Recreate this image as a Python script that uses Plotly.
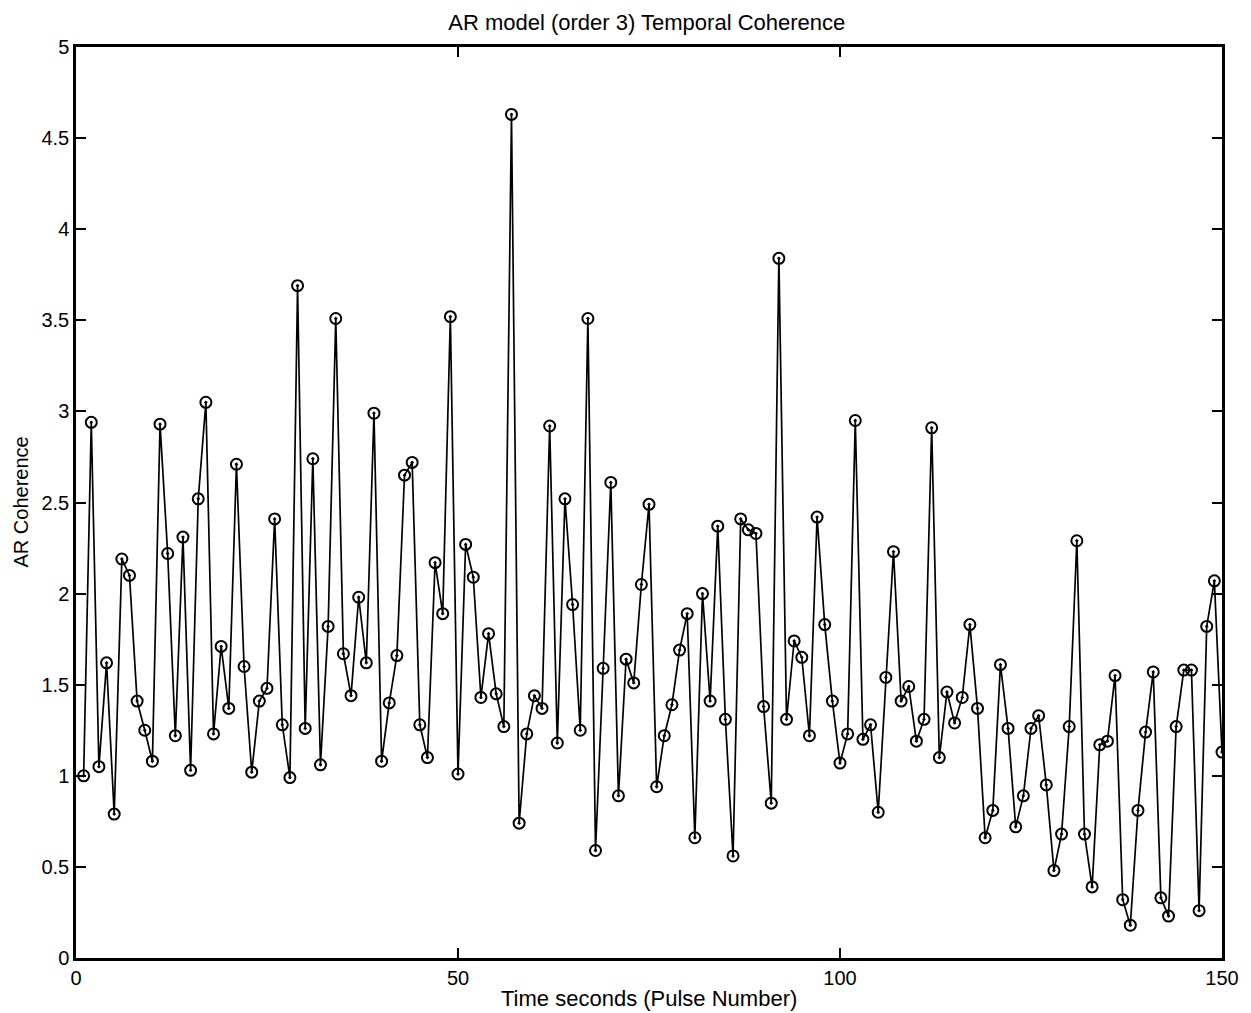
import plotly.graph_objects as go

pulse = list(range(1, 151))
coherence = [
    1.00, 2.94, 1.05, 1.62, 0.79, 2.19, 2.10, 1.41, 1.25, 1.08,
    2.93, 2.22, 1.22, 2.31, 1.03, 2.52, 3.05, 1.23, 1.71, 1.37,
    2.71, 1.60, 1.02, 1.41, 1.48, 2.41, 1.28, 0.99, 3.69, 1.26,
    2.74, 1.06, 1.82, 3.51, 1.67, 1.44, 1.98, 1.62, 2.99, 1.08,
    1.40, 1.66, 2.65, 2.72, 1.28, 1.10, 2.17, 1.89, 3.52, 1.01,
    2.27, 2.09, 1.43, 1.78, 1.45, 1.27, 4.63, 0.74, 1.23, 1.44,
    1.37, 2.92, 1.18, 2.52, 1.94, 1.25, 3.51, 0.59, 1.59, 2.61,
    0.89, 1.64, 1.51, 2.05, 2.49, 0.94, 1.22, 1.39, 1.69, 1.89,
    0.66, 2.00, 1.41, 2.37, 1.31, 0.56, 2.41, 2.35, 2.33, 1.38,
    0.85, 3.84, 1.31, 1.74, 1.65, 1.22, 2.42, 1.83, 1.41, 1.07,
    1.23, 2.95, 1.20, 1.28, 0.80, 1.54, 2.23, 1.41, 1.49, 1.19,
    1.31, 2.91, 1.10, 1.46, 1.29, 1.43, 1.83, 1.37, 0.66, 0.81,
    1.61, 1.26, 0.72, 0.89, 1.26, 1.33, 0.95, 0.48, 0.68, 1.27,
    2.29, 0.68, 0.39, 1.17, 1.19, 1.55, 0.32, 0.18, 0.81, 1.24,
    1.57, 0.33, 0.23, 1.27, 1.58, 1.58, 0.26, 1.82, 2.07, 1.13,
]

title_text = "AR model (order 3) Temporal Coherence"
x_label = "Time seconds (Pulse Number)"
y_label = "AR Coherence"
x_ticks = [0, 50, 100, 150]
y_ticks = [0, 0.5, 1, 1.5, 2, 2.5, 3, 3.5, 4, 4.5, 5]
y_ticklabels = ["0", "0.5", "1", "1.5", "2", "2.5", "3", "3.5", "4", "4.5", "5"]

font_family = "Liberation Sans, Arial, Helvetica, sans-serif"

fig = go.Figure()
fig.add_trace(go.Scatter(
    x=pulse, y=coherence, mode="lines+markers",
    line=dict(color="black", width=1.7),
    marker=dict(symbol="circle-open-dot", size=11, color="black",
                line=dict(width=2, color="black")),
    showlegend=False,
))

fig.update_layout(
    width=1251, height=1013,
    margin=dict(l=76, r=24, t=47, b=55),
    paper_bgcolor="white", plot_bgcolor="white",
    font=dict(family=font_family, color="black", size=20),
    title=dict(text=title_text, x=0.517, xanchor="center", y=0.978,
               yanchor="middle", font=dict(size=22, color="black")),
    xaxis=dict(range=[0, 150], tickvals=x_ticks, ticks="inside", ticklen=10,
               tickwidth=1.5, tickcolor="black", showline=True, linecolor="black",
               linewidth=2.5, mirror="ticks", showgrid=False, zeroline=False,
               tickfont=dict(size=20)),
    yaxis=dict(range=[0, 5], tickvals=y_ticks, ticktext=y_ticklabels,
               ticks="inside", ticklen=10, tickwidth=1.5, tickcolor="black",
               showline=True, linecolor="black", linewidth=2.5, mirror="ticks",
               showgrid=False, zeroline=False, tickfont=dict(size=20)),
    annotations=[
        dict(text=x_label, xref="paper", yref="paper", x=0.5, y=0,
             xanchor="center", yanchor="middle", yshift=-40, showarrow=False,
             font=dict(size=22)),
        dict(text=y_label, xref="paper", yref="paper", x=0, y=0.5,
             xanchor="center", yanchor="middle", xshift=-56, textangle=-90,
             showarrow=False, font=dict(size=20)),
    ],
)

fig.write_html("out.html")
